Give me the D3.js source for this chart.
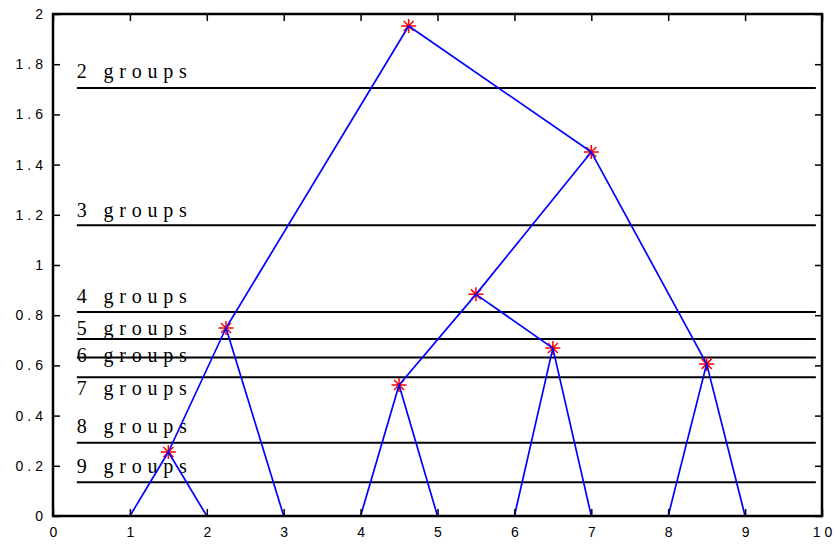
<!DOCTYPE html>
<html>
<head>
<meta charset="utf-8">
<script src="https://cdn.jsdelivr.net/npm/d3@7"></script>
<style>
  body { margin: 0; background: #fff; }
</style>
</head>
<body>
<script>
// Dendrogram: 9 leaves on the x axis, merge points
const leaves = [1, 2, 3, 4, 5, 6, 7, 8, 9];
const nodeX = [1.5, 2.25, 4.5, 6.5, 8.5, 5.5, 7, 4.625];
const nodeH = [0.255, 0.749, 0.522, 0.669, 0.606, 0.883, 1.45, 1.952];
// children: a number is a leaf, "n3" is merge node 3
const nodeKids = [
  [1, 2], ["n0", 3], [4, 5], [6, 7], [8, 9],
  ["n2", "n3"], ["n5", "n4"], ["n1", "n6"]
];

// cut lines for the number of groups
const groupCount = [2, 3, 4, 5, 6, 7, 8, 9];
const cutHeight = [1.705, 1.158, 0.813, 0.705, 0.631, 0.553, 0.292, 0.134];
const labelHeight = [1.744, 1.192, 0.847, 0.721, 0.615, 0.482, 0.329, 0.17];
const cutFrom = 0.31, cutTo = 9.92;

const xTicks = [0, 1, 2, 3, 4, 5, 6, 7, 8, 9, 10];
const yTicks = [0, 0.2, 0.4, 0.6, 0.8, 1, 1.2, 1.4, 1.6, 1.8, 2];

const width = 835, height = 545;
const svg = d3.select("body").append("svg")
  .attr("width", width)
  .attr("height", height);

const x = d3.scaleLinear().domain([0, 10]).range([53, 822]);
const y = d3.scaleLinear().domain([0, 2]).range([516, 14]);

function pos(k) {
  if (typeof k === "number") return [k, 0];
  const i = +k.slice(1);
  return [nodeX[i], nodeH[i]];
}

// horizontal cut lines
svg.selectAll("line.cut")
  .data(cutHeight)
  .enter()
  .append("line")
  .attr("class", "cut")
  .attr("x1", x(cutFrom))
  .attr("x2", x(cutTo))
  .attr("y1", (d) => y(d))
  .attr("y2", (d) => y(d))
  .attr("stroke", "#000")
  .attr("stroke-width", 2);

svg.selectAll("text.grp")
  .data(groupCount)
  .enter()
  .append("text")
  .attr("class", "grp")
  .attr("x", x(cutFrom))
  .attr("y", (d, i) => y(labelHeight[i]))
  .attr("font-family", "'Liberation Serif', 'Times New Roman', serif")
  .attr("font-size", 20)
  .attr("letter-spacing", 5.8)
  .attr("fill", "#000")
  .text((d) => d + " groups");

// red star markers at merges
const star = "M-7.5,0H7.5M0,-7V7M-5,-5L5,5M-5,5L5,-5";
svg.selectAll("path.star")
  .data(nodeX)
  .enter()
  .append("path")
  .attr("class", "star")
  .attr("d", star)
  .attr("transform", (d, i) => `translate(${x(d)},${y(nodeH[i])})`)
  .attr("stroke", "#ff0000")
  .attr("stroke-width", 1.5)
  .attr("fill", "none");

// blue links, parent to each child
const links = [];
nodeKids.forEach((kids, i) => {
  kids.forEach((k) => links.push({ p: [nodeX[i], nodeH[i]], c: pos(k) }));
});
svg.selectAll("line.link")
  .data(links)
  .enter()
  .append("line")
  .attr("class", "link")
  .attr("x1", (d) => x(d.p[0]))
  .attr("y1", (d) => y(d.p[1]))
  .attr("x2", (d) => x(d.c[0]))
  .attr("y2", (d) => y(d.c[1]))
  .attr("stroke", "#0000ff")
  .attr("stroke-width", 1.7);

// axes, ticks pointing inward on all four sides
const tickFont = "'Liberation Sans', Arial, sans-serif";
function styleAxis(g, showText) {
  g.select(".domain").remove();
  g.selectAll(".tick line").attr("stroke", "#000").attr("stroke-width", 1.5);
  g.selectAll(".tick text")
    .attr("font-family", tickFont)
    .attr("font-size", 14)
    .attr("letter-spacing", 4)
    .attr("fill", "#000");
  if (!showText) g.selectAll(".tick text").remove();
}

svg.append("g")
  .attr("transform", "translate(0,516)")
  .call(d3.axisBottom(x).tickValues(xTicks).tickSize(-7).tickPadding(11).tickFormat(d3.format("d")))
  .call((g) => styleAxis(g, true))
  .selectAll(".tick text").attr("dx", 2);

svg.append("g")
  .attr("transform", "translate(0,14)")
  .call(d3.axisTop(x).tickValues(xTicks).tickSize(-7))
  .call((g) => styleAxis(g, false));

svg.append("g")
  .attr("transform", "translate(53,0)")
  .call(d3.axisLeft(y).tickValues(yTicks).tickSize(-7).tickPadding(6).tickFormat((d) => String(+d.toFixed(1))))
  .call((g) => styleAxis(g, true));

svg.append("g")
  .attr("transform", "translate(822,0)")
  .call(d3.axisRight(y).tickValues(yTicks).tickSize(-7))
  .call((g) => styleAxis(g, false));

// box
svg.append("rect")
  .attr("x", x(0))
  .attr("y", y(2))
  .attr("width", x(10) - x(0))
  .attr("height", y(0) - y(2))
  .attr("fill", "none")
  .attr("stroke", "#000")
  .attr("stroke-width", 2.5);
</script>
</body>
</html>
